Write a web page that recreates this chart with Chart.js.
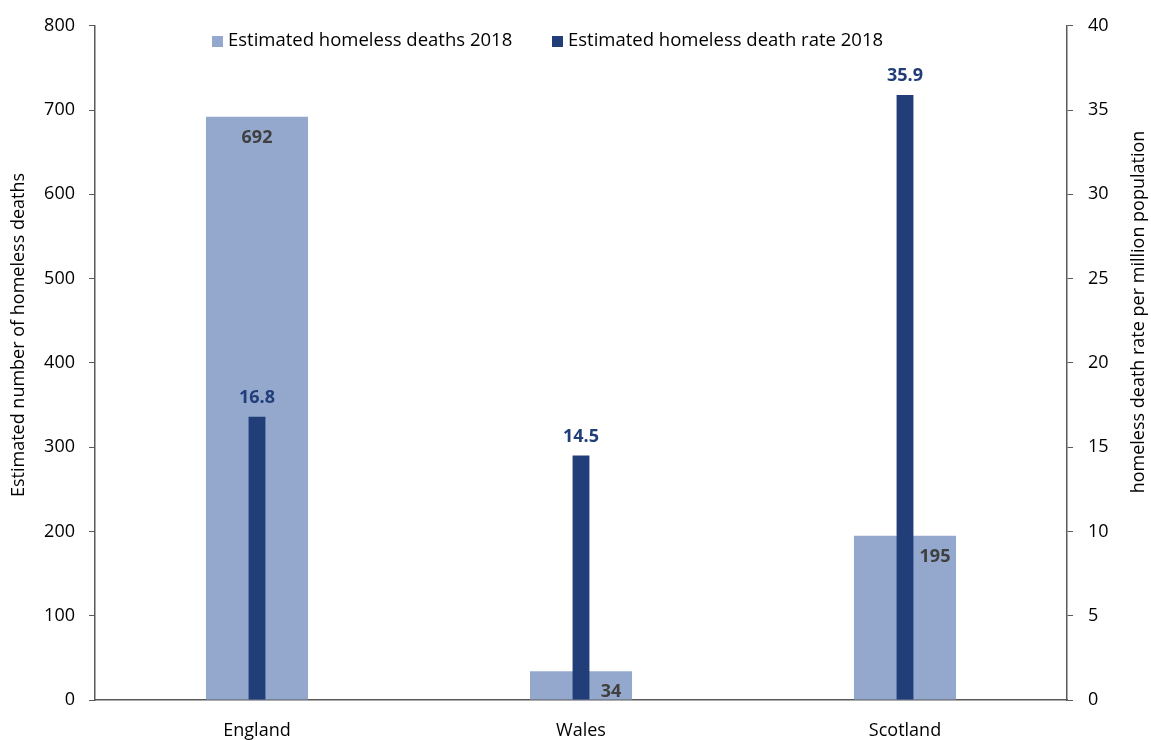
<!DOCTYPE html>
<html>
<head>
<meta charset="utf-8">
<script src="https://cdn.jsdelivr.net/npm/chart.js@4"></script>
<style>
  html, body { margin: 0; padding: 0; background: #fff; overflow: hidden; }
  #wrap { width: 1151px; height: 760px; }
</style>
</head>
<body>
<div id="wrap"><canvas id="chart"></canvas></div>
<script>
const countries = ['England', 'Wales', 'Scotland'];
const deaths = [692, 34, 195];
const deathRate = [16.8, 14.5, 35.9];
const deathsLabel = 'Estimated homeless deaths 2018';
const rateLabel = 'Estimated homeless death rate 2018';
const leftTitle = 'Estimated number of homeless deaths';
const rightTitle = 'homeless death rate per million population';

const lightBlue = '#94A8CE';
const navy = '#213E79';
const axisGrey = '#595959';
const fontFamily = '"Open Sans", "Noto Sans", sans-serif';

// value labels drawn by hand, like the original
const valueLabels = {
  id: 'valueLabels',
  afterDatasetsDraw(chart) {
    const ctx = chart.ctx;
    ctx.save();
    ctx.font = 'bold 18px ' + fontFamily;
    ctx.textAlign = 'center';
    ctx.textBaseline = 'middle';
    // light bars: inside end, nudged right when the navy bar is in the way
    const shiftX = [0, 30, 30];
    chart.getDatasetMeta(0).data.forEach((bar, i) => {
      ctx.fillStyle = '#404040';
      ctx.fillText(String(deaths[i]), bar.x + shiftX[i], bar.y + 21);
    });
    chart.getDatasetMeta(1).data.forEach((bar, i) => {
      ctx.fillStyle = navy;
      ctx.fillText(deathRate[i].toFixed(1), bar.x, bar.y - 19);
    });
    ctx.restore();
  }
};

// legend inside the plot near the top, plus the two axis titles
const extras = {
  id: 'extras',
  afterDraw(chart) {
    const ctx = chart.ctx;
    ctx.save();
    ctx.font = '18.5px ' + fontFamily;
    ctx.textBaseline = 'middle';
    ctx.fillStyle = lightBlue;
    ctx.fillRect(212, 36, 11, 11);
    ctx.fillStyle = '#000';
    ctx.fillText(deathsLabel, 228, 41);
    ctx.fillStyle = navy;
    ctx.fillRect(552, 36, 11, 11);
    ctx.fillStyle = '#000';
    ctx.fillText(rateLabel, 568, 41);

    ctx.font = '18px ' + fontFamily;
    ctx.textAlign = 'center';
    ctx.save();
    ctx.translate(19, 335);
    ctx.rotate(-Math.PI / 2);
    ctx.fillText(leftTitle, 0, 0);
    ctx.restore();
    ctx.save();
    ctx.translate(1139, 312);
    ctx.rotate(-Math.PI / 2);
    ctx.fillText(rightTitle, 0, 0);
    ctx.restore();
    ctx.restore();
  }
};

new Chart(document.getElementById('chart'), {
  type: 'bar',
  data: {
    labels: countries,
    datasets: [
      {
        label: deathsLabel,
        data: deaths,
        yAxisID: 'y',
        backgroundColor: lightBlue,
        barPercentage: 0.315,
        categoryPercentage: 1,
        grouped: false,
        order: 2
      },
      {
        label: rateLabel,
        data: deathRate,
        yAxisID: 'y1',
        backgroundColor: navy,
        barPercentage: 0.052,
        categoryPercentage: 1,
        grouped: false,
        order: 1
      }
    ]
  },
  options: {
    responsive: true,
    maintainAspectRatio: false,
    animation: false,
    layout: { padding: { top: 12, left: 0, right: 0, bottom: 0 } },
    plugins: {
      legend: { display: false },
      tooltip: { enabled: false }
    },
    scales: {
      x: {
        grid: { display: false, drawTicks: false },
        border: { color: axisGrey, width: 1.5 },
        ticks: { color: '#000', font: { family: fontFamily, size: 18 }, padding: 20 },
        afterFit(scale) { scale.height = 60; }
      },
      y: {
        position: 'left',
        min: 0, max: 800,
        ticks: { stepSize: 100, color: '#000', font: { family: fontFamily, size: 18 }, padding: 14 },
        grid: { drawOnChartArea: false, tickLength: 6, color: axisGrey },
        border: { color: axisGrey, width: 1.5 },
        afterFit(scale) { scale.width = 95; }
      },
      y1: {
        position: 'right',
        min: 0, max: 40,
        ticks: { stepSize: 5, color: '#000', font: { family: fontFamily, size: 18 }, padding: 15 },
        grid: { drawOnChartArea: false, tickLength: 6, color: axisGrey },
        border: { color: axisGrey, width: 1.5 },
        afterFit(scale) { scale.width = 84; }
      }
    }
  },
  plugins: [valueLabels, extras]
});
</script>
</body>
</html>
